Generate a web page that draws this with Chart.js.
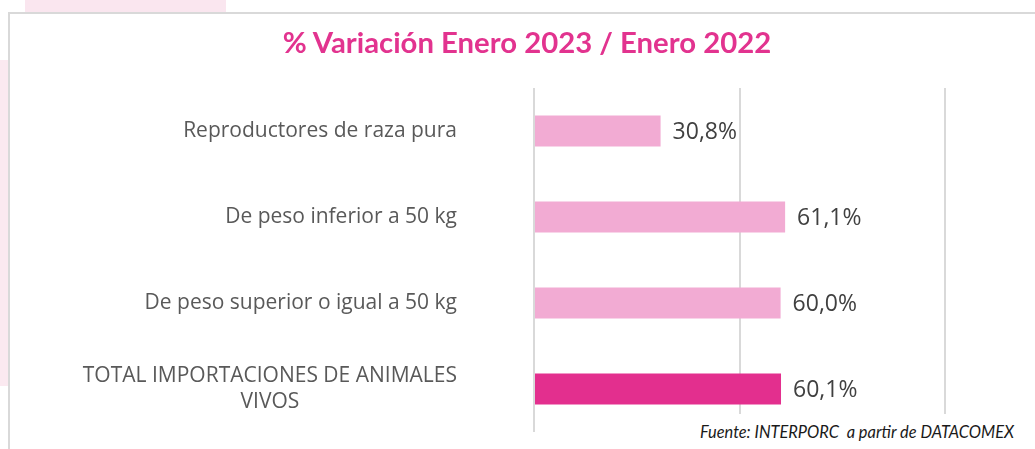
<!DOCTYPE html>
<html lang="es">
<head>
<meta charset="utf-8">
<title>% Variación Enero 2023 / Enero 2022</title>
<script src="https://cdn.jsdelivr.net/npm/chart.js@4/dist/chart.umd.min.js"></script>
<style>
  html, body { margin: 0; padding: 0; background: #fff; }
  #wrap { position: relative; width: 1035px; height: 449px; overflow: hidden; background: #fff; }
  .deco-top { position: absolute; left: 25px; top: 0; width: 201px; height: 12px; background: #fae6ef; }
  .deco-left { position: absolute; left: 0; top: 60px; width: 8px; height: 326px; background: #fbe9f0; }
  .frame { position: absolute; left: 8px; top: 12px; right: -4px; bottom: -4px;
           border-left: 2px solid #d9d9d9; border-top: 2px solid #d9d9d9; background: #fff; }
  #chart { position: absolute; left: 0; top: 0; }
  .title { position: absolute; left: 227px; top: 24px; width: 600px; text-align: center;
           font: bold 29.3px Lato, sans-serif; color: #e2338f; white-space: nowrap; }
  .source { position: absolute; left: 690px; top: 414px; width: 345px; height: 35px; background: #fff;
            font: italic 16.4px Lato, sans-serif; color: #1a1a1a; white-space: nowrap; }
  .source span { position: absolute; left: 10px; top: 8px; }
</style>
</head>
<body>
<div id="wrap">
  <div class="deco-top"></div>
  <div class="deco-left"></div>
  <div class="frame"></div>
  <canvas id="chart" width="1035" height="449"></canvas>
  <div class="title">% Variación Enero 2023 / Enero 2022</div>
  <div class="source"><span>Fuente: INTERPORC&nbsp; a partir de DATACOMEX</span></div>
</div>
<script>
const categories = [
  "Reproductores de raza pura",
  "De peso inferior a 50 kg",
  "De peso superior o igual a 50 kg",
  ["TOTAL IMPORTACIONES DE ANIMALES", "VIVOS"]
];
const variacion = [30.8, 61.1, 60.0, 60.1];
const barColors = ["#f2abd3", "#f2abd3", "#f2abd3", "#e32f8e"];
const xTicks = [0, 50, 100];

const fmt = v => v.toFixed(1).replace(".", ",") + "%";

// category names on the left and value labels after each bar
const rowLabels = {
  id: "rowLabels",
  afterDatasetsDraw(chart) {
    const { ctx, scales: { x, y } } = chart;
    const rightEdge = chart.chartArea.left - 77;
    ctx.save();
    ctx.textBaseline = "middle";
    categories.forEach((cat, i) => {
      const yc = y.getPixelForValue(i);
      const lines = Array.isArray(cat) ? cat : [cat];
      ctx.font = "21px 'Open Sans', sans-serif";
      ctx.fillStyle = "#595959";
      const lineH = 26;
      const top = yc - (lines.length - 1) * lineH / 2;
      const w0 = ctx.measureText(lines[0]).width;
      const cx = rightEdge - w0 / 2;
      ctx.textAlign = "center";
      lines.forEach((ln, k) => ctx.fillText(ln, cx, top + k * lineH));

      ctx.font = "23px 'Open Sans', sans-serif";
      ctx.fillStyle = "#404040";
      ctx.textAlign = "left";
      ctx.fillText(fmt(variacion[i]), x.getPixelForValue(variacion[i]) + 12, yc + 1);
    });
    ctx.restore();
  }
};

new Chart(document.getElementById("chart"), {
  type: "bar",
  data: {
    labels: categories,
    datasets: [{
      data: variacion,
      backgroundColor: barColors,
      barPercentage: 0.36,
      categoryPercentage: 1
    }]
  },
  options: {
    indexAxis: "y",
    responsive: false,
    animation: false,
    layout: { padding: { left: 526, right: 90, top: 88, bottom: 17 } },
    scales: {
      x: {
        min: 0,
        max: 100,
        afterBuildTicks: s => { s.ticks = xTicks.map(v => ({ value: v })); },
        ticks: { display: false },
        grid: { color: "#d9d9d9", lineWidth: 2, drawTicks: false },
        border: { display: false }
      },
      y: {
        ticks: { display: false },
        grid: { display: false },
        border: { display: false }
      }
    },
    plugins: { legend: { display: false }, tooltip: { enabled: false } }
  },
  plugins: [rowLabels]
});
</script>
</body>
</html>
